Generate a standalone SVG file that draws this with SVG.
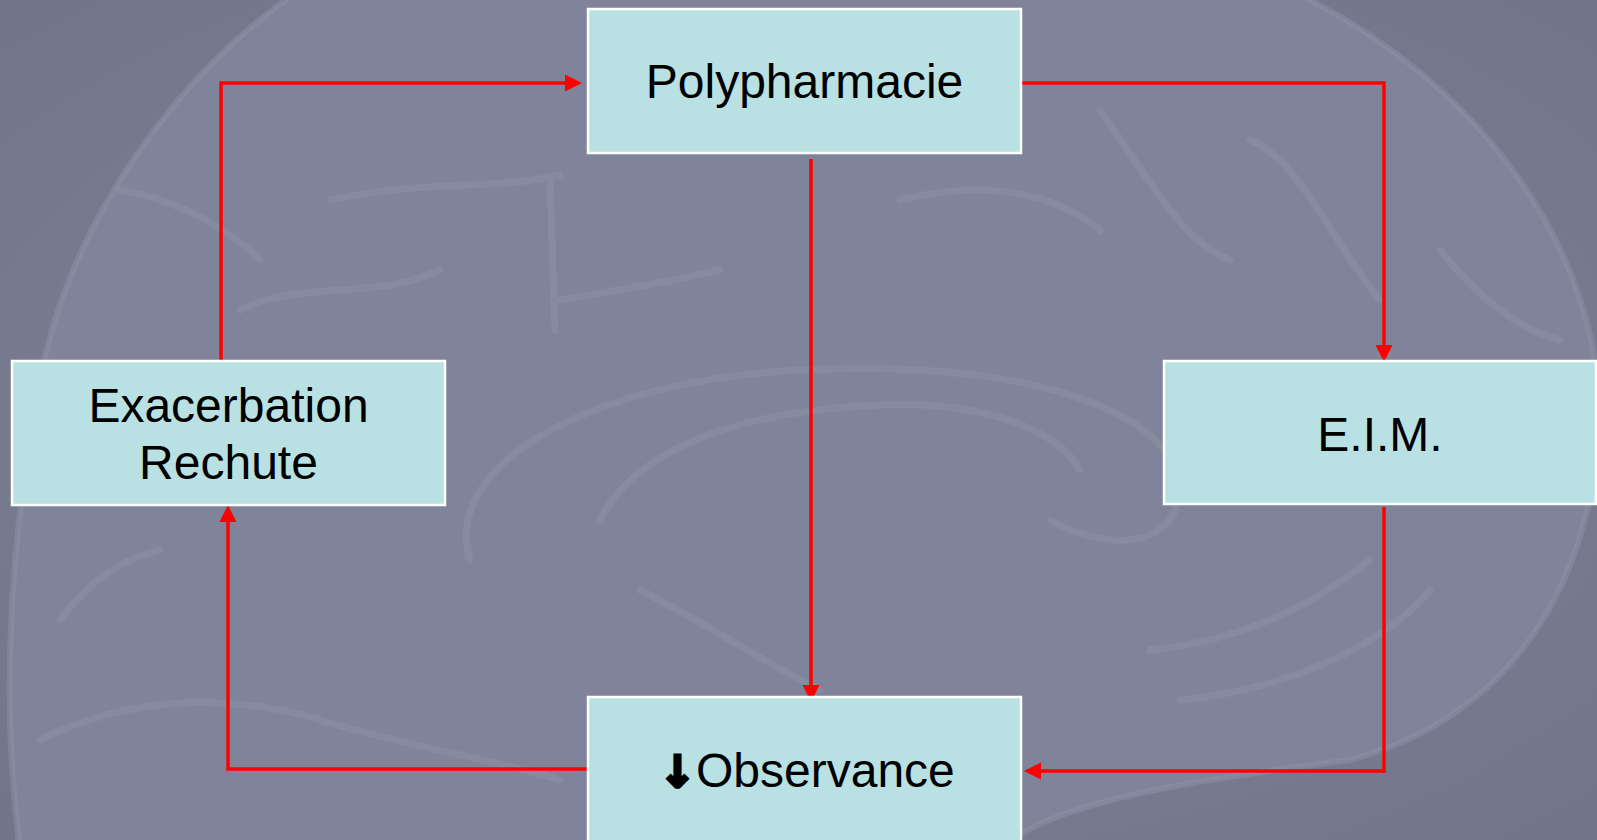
<svg xmlns="http://www.w3.org/2000/svg" width="1597" height="840" viewBox="0 0 1597 840">
  <style>
    .box { fill: #b9e0e3; stroke: #ffffff; stroke-width: 2.5; }
    .lbl { font-family: "Liberation Sans", Arial, sans-serif; font-size: 48px; fill: #000000; text-anchor: middle; }
    .conn { fill: none; stroke: #ff0000; stroke-width: 3.5; stroke-linejoin: miter; stroke-linecap: butt; }
    .gyr { fill: none; stroke: #9094a8; stroke-width: 7; stroke-linecap: round; opacity: 0.45; }
    .darr { font-family: "DejaVu Sans", sans-serif; font-weight: bold; font-size: 44px; stroke: #000000; stroke-width: 3; stroke-linejoin: miter; }
  </style>
  <defs>
    <marker id="ah" markerUnits="userSpaceOnUse" markerWidth="19" markerHeight="19" viewBox="0 0 19 19" refX="9" refY="9.5" orient="auto">
      <path d="M1,1 L18,9.5 L1,18 Z" fill="#ff0000"/>
    </marker>
    <radialGradient id="bg" cx="50%" cy="50%" r="75%">
      <stop offset="0" stop-color="#82869a"/>
      <stop offset="1" stop-color="#707488"/>
    </radialGradient>
  </defs>

  <g id="background">
    <rect x="0" y="0" width="1597" height="840" fill="url(#bg)"/>
    <path d="M300,-10 C180,70 70,220 40,380 C10,540 0,700 20,850 L1000,850 C1050,800 1200,780 1350,760 C1500,720 1590,600 1600,420 C1600,250 1480,80 1290,-10 Z" fill="#80849a" stroke="#9094a8" stroke-width="6" stroke-opacity="0.45"/>
    <path class="gyr" d="M470,560 C440,460 600,380 800,370 C1000,360 1150,400 1175,470 C1195,540 1120,560 1050,520"/>
    <path class="gyr" d="M600,520 C640,440 760,410 880,405 C980,400 1060,430 1080,470"/>
    <path class="gyr" d="M330,200 C420,180 500,190 560,175 M550,180 L555,330 M560,300 C620,290 680,280 720,270"/>
    <path class="gyr" d="M240,310 C300,280 380,300 440,270 M120,190 C180,200 230,230 260,260"/>
    <path class="gyr" d="M1100,110 C1150,180 1180,240 1230,260 M1250,140 C1300,160 1330,240 1380,300 M1440,250 C1480,300 1520,330 1560,340"/>
    <path class="gyr" d="M900,200 C980,180 1050,190 1100,230 M640,590 C700,620 760,660 820,690"/>
    <path class="gyr" d="M1180,700 C1280,690 1380,650 1430,590 M1150,650 C1250,640 1320,600 1370,560"/>
    <path class="gyr" d="M60,620 C90,580 120,560 160,550 M40,740 C120,700 220,690 320,720 C420,750 500,760 560,780"/>
  </g>

  <g id="connectors">
    <path class="conn" d="M221,361 V83 H573" marker-end="url(#ah)"/>
    <path class="conn" d="M1022,83 H1384 V353" marker-end="url(#ah)"/>
    <path class="conn" d="M1384,507 V771 H1033" marker-end="url(#ah)"/>
    <path class="conn" d="M587,769 H228 V514" marker-end="url(#ah)"/>
    <path class="conn" d="M811,159 V693" marker-end="url(#ah)"/>
  </g>

  <g id="node-polypharmacie">
    <rect class="box" x="588" y="9" width="433" height="144"/>
    <text class="lbl" x="804.5" y="98">Polypharmacie</text>
  </g>

  <g id="node-exacerbation">
    <rect class="box" x="12" y="361" width="433" height="144"/>
    <text class="lbl" x="228.5" y="422">Exacerbation</text>
    <text class="lbl" x="228.5" y="479">Rechute</text>
  </g>

  <g id="node-eim">
    <rect class="box" x="1164" y="361" width="432" height="143"/>
    <text class="lbl" x="1380" y="451">E.I.M.</text>
  </g>

  <g id="node-observance">
    <rect class="box" x="588" y="697" width="433" height="160"/>
    <text class="lbl" style="text-anchor:start" y="787"><tspan class="darr" x="659">↓</tspan><tspan x="696">Observance</tspan></text>
  </g>
</svg>
